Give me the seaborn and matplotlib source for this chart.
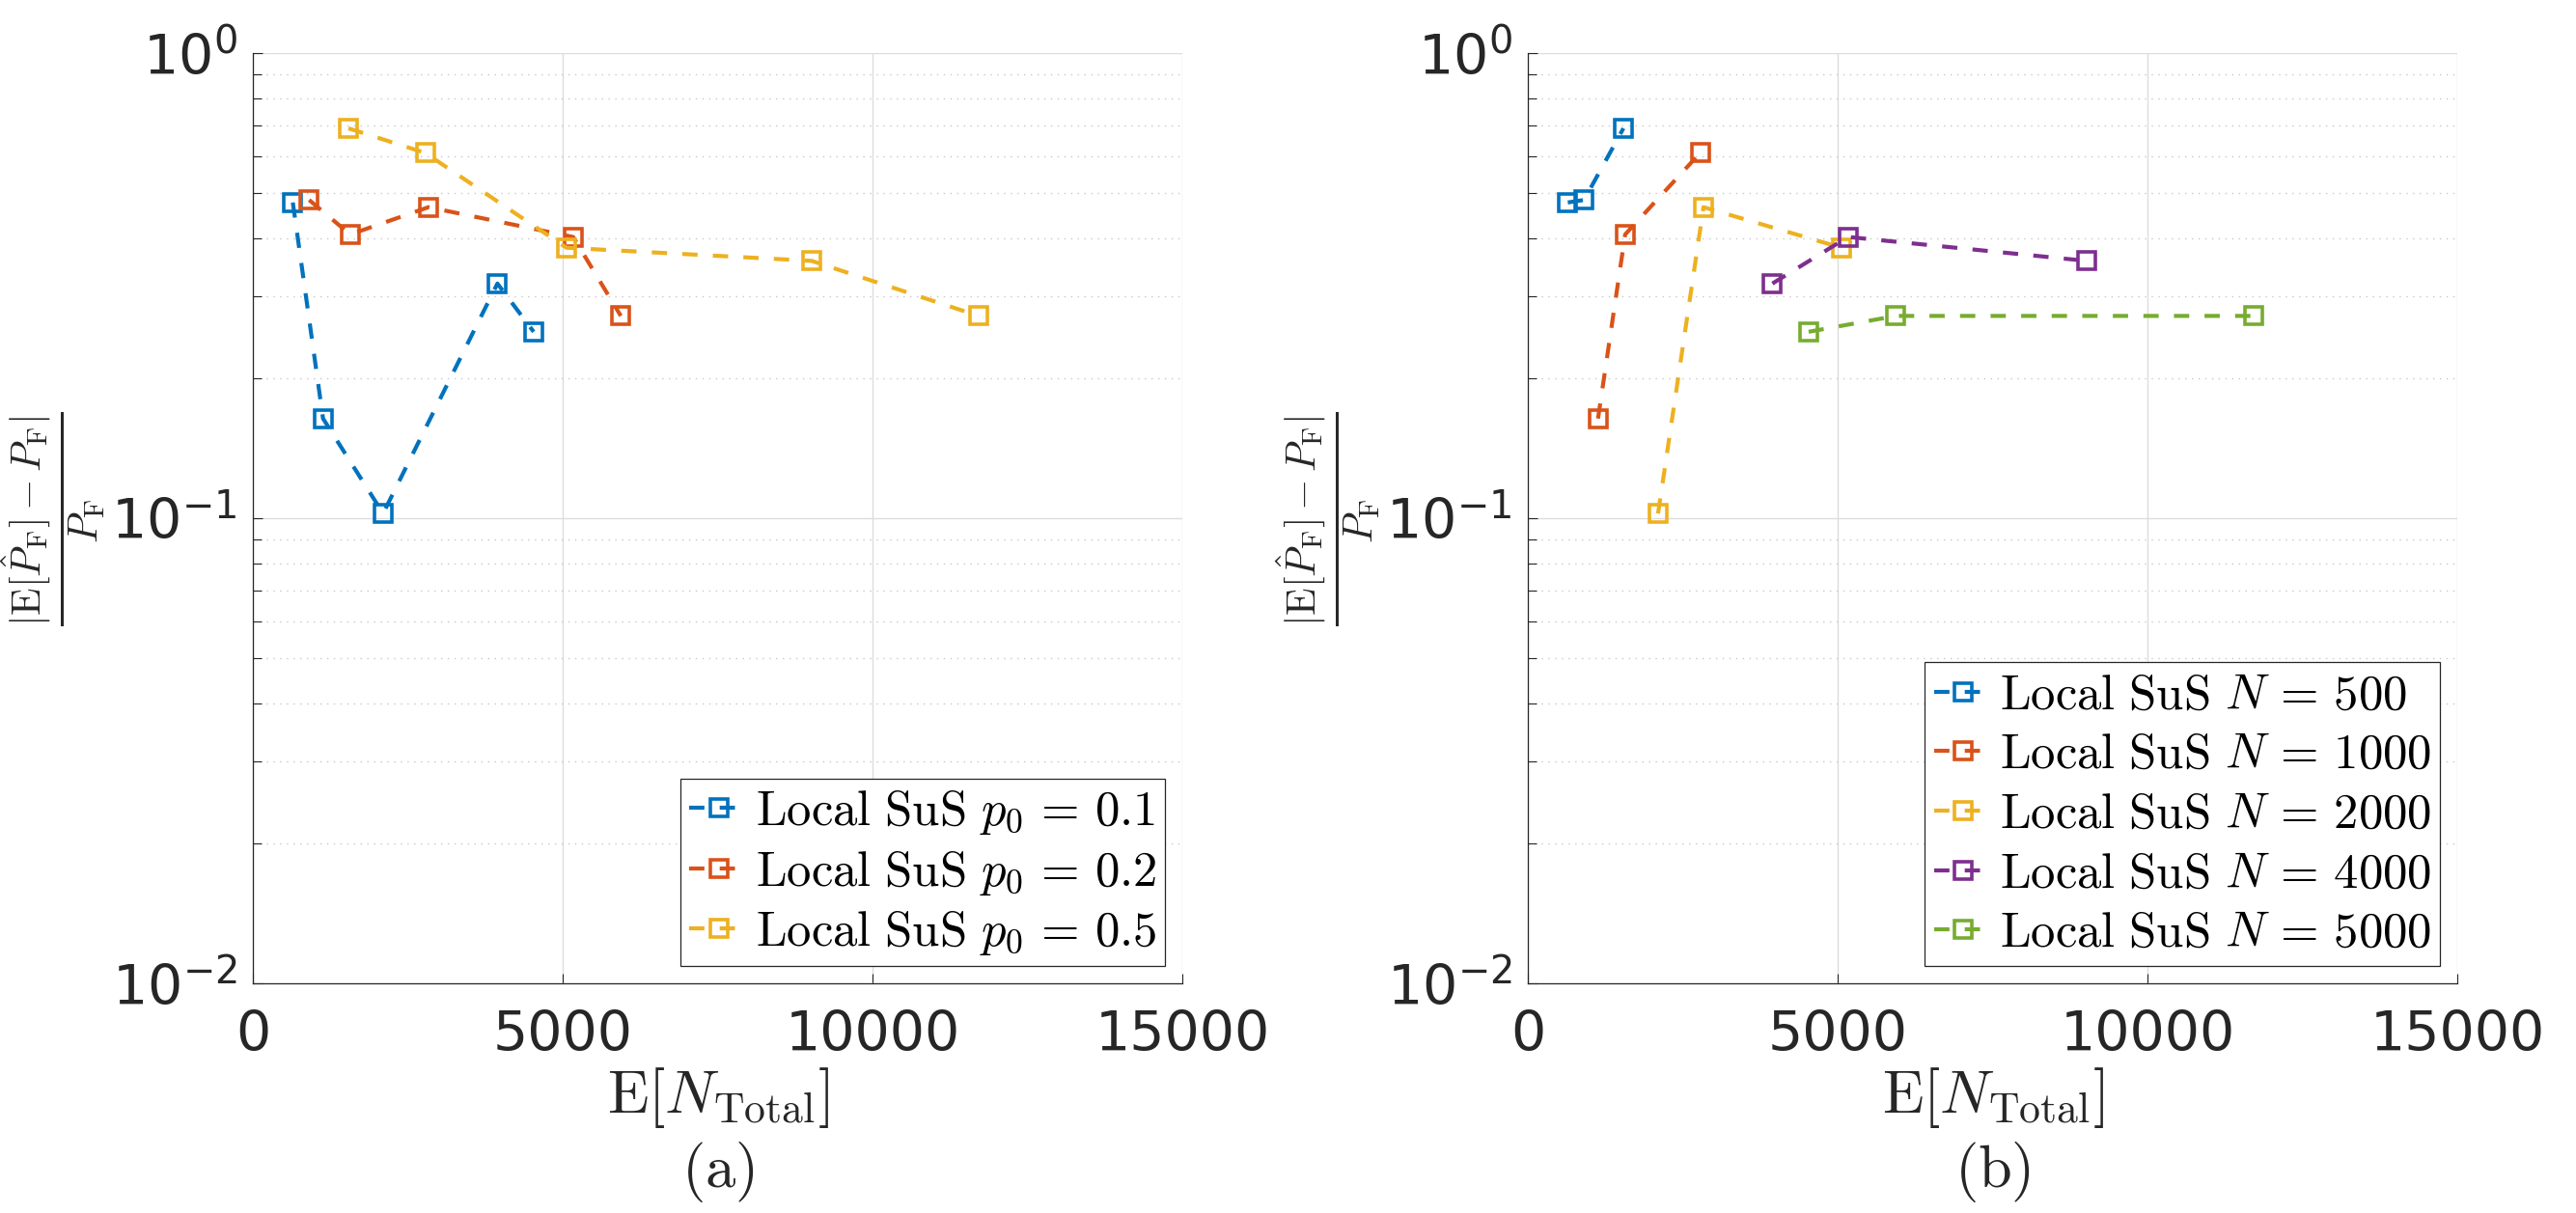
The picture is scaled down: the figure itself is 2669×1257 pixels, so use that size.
import numpy as np
import pandas as pd
import matplotlib
matplotlib.use("Agg")
import matplotlib.pyplot as plt
import seaborn as sns
from matplotlib.ticker import LogLocator, NullFormatter, FixedLocator, LogFormatterSciNotation

# ---------------- data ----------------
N_values = [500, 1000, 2000, 4000, 5000]
p0_values = [0.1, 0.2, 0.5]
# E[N_Total] for each N (same order as N_values)
n_total_p01 = [640, 1128, 2097, 3942, 4527]
n_total_p02 = [903, 1566, 2830, 5164, 5934]
n_total_p05 = [1538, 2776, 5058, 9013, 11708]
# relative error |E[P_hat]-P_F|/P_F
rel_err_p01 = [0.478, 0.164, 0.1025, 0.320, 0.252]
rel_err_p02 = [0.484, 0.408, 0.467, 0.403, 0.2726]
rel_err_p05 = [0.690, 0.611, 0.382, 0.358, 0.2726]

x_ticks = [0, 5000, 10000, 15000]
panel_labels = ["(a)", "(b)"]

colors = ["#0072BD", "#D95319", "#EDB120", "#7E2F8E", "#77AC30"]

rows = []
for p0, xs, ys in zip(p0_values, [n_total_p01, n_total_p02, n_total_p05],
                      [rel_err_p01, rel_err_p02, rel_err_p05]):
    for N, x, y in zip(N_values, xs, ys):
        rows.append({"p0": p0, "N": N, "n_total": x, "rel_err": y})
df = pd.DataFrame(rows)

# ---------------- style ----------------
sns.set_style("ticks")
plt.rcParams["font.family"] = ["DejaVu Sans"]
plt.rcParams["mathtext.fontset"] = "cm"
plt.rcParams["axes.unicode_minus"] = False

W, H = 2669, 1257
fig = plt.figure(figsize=(W / 100, H / 100), dpi=100)
ax_w = 963
ax_top = 55.3
ax_bot = 1019.3
ax_h = ax_bot - ax_top
lefts = [262.3, 1583.3]
axes = [fig.add_axes([l / W, 1 - ax_bot / H, ax_w / W, ax_h / H]) for l in lefts]

lw = 3.0
dash = (0, (3.8, 3.8))

ylabel = r"$\frac{|\mathrm{E}[\hat{P}_\mathrm{F}]-P_\mathrm{F}|}{P_\mathrm{F}}$"
xlabel = r"$\mathrm{E}[N_\mathrm{Total}]$"


def style_axis(ax, label):
    ax.set_yscale("log")
    ax.set_xlim(0, 15000)
    ax.set_ylim(1e-2, 1e0)
    ax.xaxis.set_major_locator(FixedLocator(x_ticks))
    ax.yaxis.set_major_locator(LogLocator(base=10, numticks=10))
    ax.yaxis.set_minor_locator(LogLocator(base=10, subs=np.arange(2, 10), numticks=20))
    ax.yaxis.set_minor_formatter(NullFormatter())
    ax.yaxis.set_major_formatter(LogFormatterSciNotation())
    ax.grid(True, which="major", color="#dcdcdc", linewidth=1.0, linestyle="-")
    ax.grid(True, which="minor", axis="y", color="#c8c8c8", linewidth=1.0,
            linestyle=(0, (1, 4)))
    ax.set_axisbelow(True)
    for s in ["top", "right"]:
        ax.spines[s].set_visible(False)
    for s in ["left", "bottom"]:
        ax.spines[s].set_color("#262626")
        ax.spines[s].set_linewidth(0.9)
    ax.tick_params(axis="both", which="both", direction="in", colors="#262626",
                   width=0.8, labelsize=41)
    ax.tick_params(axis="both", which="major", length=7)
    ax.tick_params(axis="y", which="minor", length=6.5)
    ax.tick_params(axis="x", which="major", pad=19.5)
    ax.tick_params(axis="y", which="major", pad=12)
    ax.set_xlabel(xlabel, fontsize=45, color="#262626", labelpad=2)
    ax.set_ylabel(ylabel, fontsize=43, color="#262626", labelpad=3)
    ax.text(0.5, (ax_bot - 1214) / ax_h, r"$\mathrm{" + label + "}$",
            transform=ax.transAxes, ha="center", va="center",
            fontsize=45, color="#262626")


def draw(ax, sub, color, label):
    sns.lineplot(data=sub, x="n_total", y="rel_err", ax=ax, sort=False,
                 estimator=None, color=color, linewidth=lw, linestyle=dash,
                 marker="s", markersize=12.5, markerfacecolor="none",
                 markeredgecolor=color, markeredgewidth=2.6,
                 label=label, legend=False)


# panel (a): one line per p0
for i, p0 in enumerate(p0_values):
    draw(axes[0], df[df["p0"] == p0], colors[i],
         r"$\mathrm{Local\ SuS}\ p_0\,=\,%s$" % p0)
style_axis(axes[0], panel_labels[0])

# panel (b): one line per N
for i, N in enumerate(N_values):
    draw(axes[1], df[df["N"] == N], colors[i],
         r"$\mathrm{Local\ SuS}\ N\,=\,%d$" % N)
style_axis(axes[1], panel_labels[1])

for ax in axes:
    h, l = ax.get_legend_handles_labels()
    leg = ax.legend(h, l, loc="lower right",
                    bbox_to_anchor=(1 - 18 / ax_w, 18 / ax_h),
                    borderaxespad=0, fontsize=36.5, frameon=True, fancybox=False,
                    framealpha=1, edgecolor="#262626", labelspacing=0.23,
                    borderpad=0.18, handlelength=1.2, handletextpad=0.15,
                    numpoints=1)
    leg.get_frame().set_linewidth(0.9)
    for t in leg.get_texts():
        t.set_color("black")

fig.savefig("out.png", dpi=100, facecolor="white")
